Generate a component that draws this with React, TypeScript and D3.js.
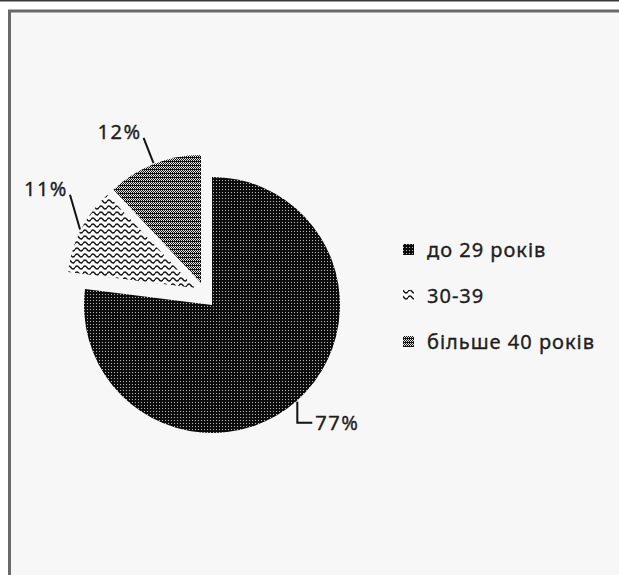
import React from "react";
import * as d3 from "d3";

const CATEGORIES = ["до 29 років", "30-39", "більше 40 років"];
const VALUES = [77, 11, 12];
const PERCENT_LABELS = ["77%", "11%", "12%"];

const W = 619;
const H = 575;
const CX = 212;
const CY = 305;
const R = 128;
const EXPLODE: [number, number][] = [[0, 0], [-17, -17], [-11, -22]];
const PATTERN_IDS = ["pDense", "pWave", "pGrid"];
const FONT = "'Noto Sans', 'Open Sans', sans-serif";
const TEXT_COLOR = "#1e1e1e";

export default function App() {
  const pie = d3.pie<number>().sort(null).value((d) => d).startAngle(0).endAngle(2 * Math.PI);
  const arcs = pie(VALUES);
  const arc = d3.arc<d3.PieArcDatum<number>>().innerRadius(0).outerRadius(R);
  const legendY = d3.scalePoint<string>().domain(CATEGORIES).range([250, 342]);

  const polar = (a: number, rad: number, c: [number, number]) => [c[0] + rad * Math.sin(a), c[1] - rad * Math.cos(a)];

  const textProps = { fontSize: 20, fill: TEXT_COLOR, stroke: TEXT_COLOR, strokeWidth: 0.35 };

  return (
    <svg width={W} height={H} style={{ position: "absolute", left: 0, top: 0, background: "#ffffff" }} fontFamily={FONT}>
      <defs>
        <pattern id="pDense" width={3} height={3} patternUnits="userSpaceOnUse">
          <rect width={3} height={3} fill="#0c0c0c" />
          <rect x={1} y={1} width={1} height={1} fill="#bdbdbd" />
        </pattern>
        <pattern id="pWave" width={8} height={6} patternUnits="userSpaceOnUse">
          <rect width={8} height={6} fill="#fafafa" />
          <path d="M0,3.5 Q2,0.5 4,3.5 T8,3.5" fill="none" stroke="#111" strokeWidth={1.4} />
        </pattern>
        <pattern id="pGrid" width={4} height={4} patternUnits="userSpaceOnUse">
          <rect width={4} height={4} fill="#e6e6e6" />
          <rect x={0} y={0} width={1} height={1} fill="#111" />
          <rect x={2} y={0} width={1} height={1} fill="#111" />
          <rect x={1} y={1} width={1} height={1} fill="#111" />
          <rect x={3} y={1} width={1} height={1} fill="#111" />
          <rect x={0} y={2} width={4} height={1} fill="#111" />
          <rect x={1} y={3} width={1} height={1} fill="#111" />
          <rect x={3} y={3} width={1} height={1} fill="#111" />
        </pattern>
      </defs>

      {/* frame */}
      <rect x={0} y={0} width={W} height={1.5} fill="#3a3a3a" />
      <rect x={9.5} y={11} width={W + 20} height={H + 20} fill="#f7f7f7" stroke="#6a6a6a" strokeWidth={3} />

      {/* slices */}
      {arcs.map((a, i) => {
        const c: [number, number] = [CX + EXPLODE[i][0], CY + EXPLODE[i][1]];
        return (
          <path key={i} d={arc(a) || ""} transform={`translate(${c[0]},${c[1]})`} fill={`url(#${PATTERN_IDS[i]})`} />
        );
      })}

      {/* labels with leaders */}
      {arcs.map((a, i) => {
        const c: [number, number] = [CX + EXPLODE[i][0], CY + EXPLODE[i][1]];
        const mid = (a.startAngle + a.endAngle) / 2;
        const [sx, sy] = polar(mid, R + 1, c);
        if (Math.sin(mid) > 0) {
          const ex = sx, ey = sy + 21;
          return (
            <g key={i}>
              <path d={`M${sx},${sy}V${ey}H${ex + 15}`} fill="none" stroke="#111" strokeWidth={2} />
              <text x={ex + 18} y={ey + 7} letterSpacing={1.5} {...textProps}>{PERCENT_LABELS[i]}</text>
            </g>
          );
        }
        const [ex, ey] = polar(mid + (i === 1 ? 0.17 : 0), R + 28, c);
        return (
          <g key={i}>
            <line x1={sx} y1={sy} x2={ex} y2={ey} stroke="#111" strokeWidth={2} />
            <text x={ex - 2} y={ey + 1} textAnchor="end" letterSpacing={1.5} {...textProps}>{PERCENT_LABELS[i]}</text>
          </g>
        );
      })}

      {/* legend */}
      {CATEGORIES.map((cat, i) => {
        const y = legendY(cat) as number;
        return (
          <g key={cat}>
            <rect x={403} y={y - 6} width={11} height={11} fill={`url(#${PATTERN_IDS[i]})`} />
            <text x={427} y={y + 7} letterSpacing={1} {...textProps}>{cat}</text>
          </g>
        );
      })}
    </svg>
  );
}
